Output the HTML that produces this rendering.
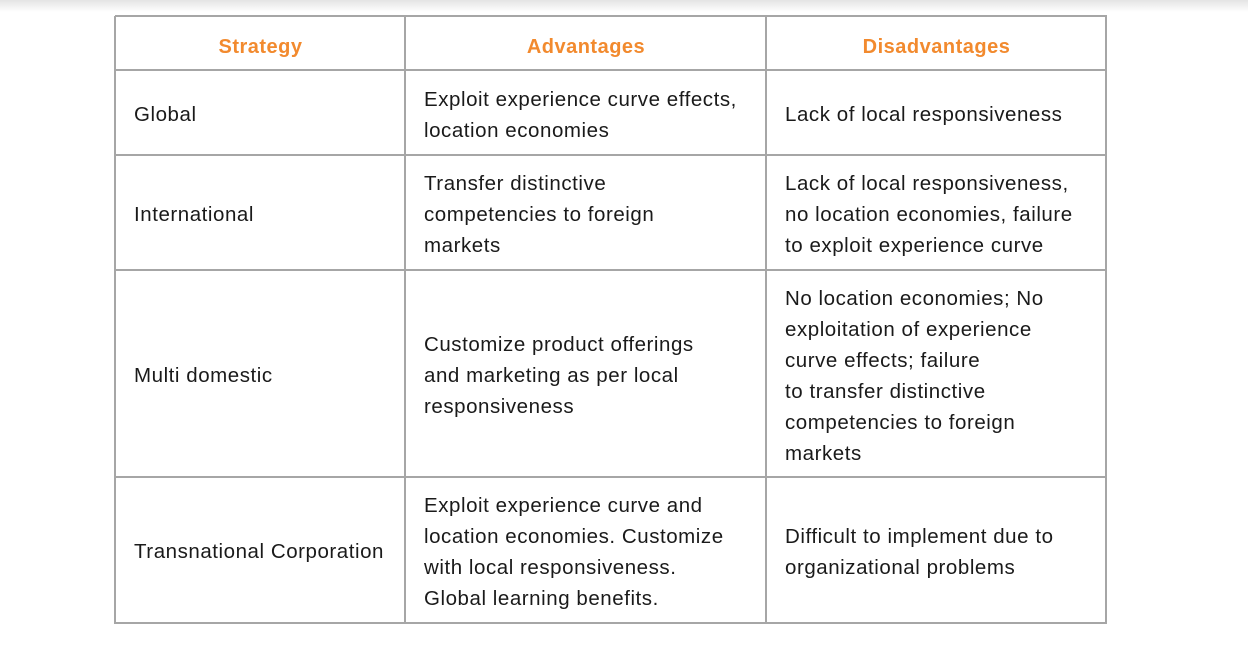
<!DOCTYPE html>
<html><head><meta charset="utf-8"><style>
html,body{margin:0;padding:0;width:1248px;height:651px;background:#fff;overflow:hidden;position:relative;font-family:"Liberation Sans",sans-serif;}
.shade{position:absolute;left:0;top:0;width:1248px;height:12px;background:linear-gradient(#e4e4e4,#fff);}
.hl{position:absolute;height:2px;background:#a6a6a6;left:115px;width:992px;}
.vl{position:absolute;width:2px;background:#a6a6a6;top:16px;height:608px;}
.t{position:absolute;font-size:20.5px;letter-spacing:0.55px;line-height:31px;color:#1a1a1a;white-space:nowrap;margin-top:-1px;}
.h{position:absolute;font-size:20px;letter-spacing:0.5px;font-weight:bold;color:#f28a2e;text-align:center;top:33px;line-height:28px;}
</style></head><body>
<div class="shade"></div>
<div>
<div class="hl" style="top:15px"></div>
<div class="hl" style="top:69px"></div>
<div class="hl" style="top:154px"></div>
<div class="hl" style="top:269px"></div>
<div class="hl" style="top:476px"></div>
<div class="hl" style="top:622px"></div>
<div class="vl" style="left:114px"></div>
<div class="vl" style="left:404px"></div>
<div class="vl" style="left:765px"></div>
<div class="vl" style="left:1105px"></div>

<div class="h" style="left:116px;width:289px">Strategy</div>
<div class="h" style="left:406px;width:360px">Advantages</div>
<div class="h" style="left:767px;width:339px">Disadvantages</div>

<div class="t" style="left:134px;top:100px">Global</div>
<div class="t" style="left:424px;top:85px">Exploit experience curve effects,<br>location economies</div>
<div class="t" style="left:785px;top:100px">Lack of local responsiveness</div>

<div class="t" style="left:134px;top:200px">International</div>
<div class="t" style="left:424px;top:169px">Transfer distinctive<br>competencies to foreign<br>markets</div>
<div class="t" style="left:785px;top:169px">Lack of local responsiveness,<br>no location economies, failure<br>to exploit experience curve</div>

<div class="t" style="left:134px;top:361px">Multi domestic</div>
<div class="t" style="left:424px;top:330px">Customize product offerings<br>and marketing as per local<br>responsiveness</div>
<div class="t" style="left:785px;top:284px">No location economies; No<br>exploitation of experience<br>curve effects; failure<br>to transfer distinctive<br>competencies to foreign<br>markets</div>

<div class="t" style="left:134px;top:537px">Transnational Corporation</div>
<div class="t" style="left:424px;top:491px">Exploit experience curve and<br>location economies. Customize<br>with local responsiveness.<br>Global learning benefits.</div>
<div class="t" style="left:785px;top:522px">Difficult to implement due to<br>organizational problems</div>
</div>
</body></html>
